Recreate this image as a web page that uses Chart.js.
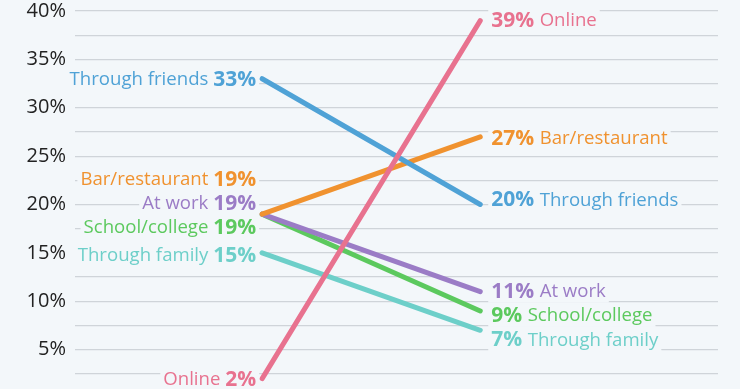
<!DOCTYPE html>
<html lang="en">
<head>
<meta charset="UTF-8">
<title>Where people met their partner</title>
<script src="https://cdn.jsdelivr.net/npm/chart.js"></script>
<style>
html,body{margin:0;padding:0;background:#f3f7fa;overflow:hidden;}
.wrap{width:740px;height:429px;margin-top:-10px;position:relative;}
</style>
</head>
<body>
<div class="wrap"><canvas id="slope"></canvas></div>
<script>
Chart.defaults.animation=false;

/* ── data ───────────────────────────────────────────── */
const categories=["Online","Through friends","Bar/restaurant","At work","School/college","Through family"];
const before=[2,33,19,19,19,15];
const after =[39,20,27,11,9,7];

const COLORS=["#e8728f","#4fa2d6","#f0922f","#9b7cc6","#5cc95e","#6dcfc9"];
const BG="#f3f7fa";
const FONT="'Open Sans', sans-serif";

/* label nudges (px) so the stacked labels don't collide */
const nudgeL=[0,0,-35,-11,13,2];
const nudgeR=[-1,-5,1,-1,4,9];

/* ── label plugin ───────────────────────────────────── */
const sideLabels={
  id:"sideLabels",
  afterDatasetsDraw(ch){
    const {ctx,scales:{x,y}}=ch;
    ctx.save();
    ctx.textBaseline="middle";
    const fN=`18.6px ${FONT}`, fB=`bold 21px ${FONT}`;
    categories.forEach((name,i)=>{
      const col=COLORS[i];
      // left side: "Name NN%"
      let yy=y.getPixelForValue(before[i])+nudgeL[i]+1;
      let xr=x.getPixelForValue(0)-6;
      ctx.font=fB; const pL=before[i]+"%"; const wB=ctx.measureText(pL).width;
      ctx.font=fN; const nL=name+" "; const wN=ctx.measureText(nL).width;
      ctx.fillStyle=BG;
      ctx.fillRect(xr-wB-wN-3,yy-11,wB+wN+6,22);
      ctx.fillStyle=col;
      ctx.textAlign="left";
      ctx.font=fN; ctx.fillText(nL,xr-wB-wN,yy);
      ctx.font=fB; ctx.fillText(pL,xr-wB,yy);
      // right side: "NN% Name"
      yy=y.getPixelForValue(after[i])+nudgeR[i]+1;
      let xl=x.getPixelForValue(1)+11;
      ctx.font=fB; const pR=after[i]+"% "; const wB2=ctx.measureText(pR).width;
      ctx.font=fN; const wN2=ctx.measureText(name).width;
      ctx.fillStyle=BG;
      ctx.fillRect(xl-3,yy-11,wB2+wN2+6,22);
      ctx.fillStyle=col;
      ctx.font=fB; ctx.fillText(pR,xl,yy);
      ctx.font=fN; ctx.fillText(name,xl+wB2,yy);
    });
    ctx.restore();
  }
};

/* ── chart ──────────────────────────────────────────── */
const datasets=categories.map((c,i)=>({
  label:c,
  data:[{x:0,y:before[i]},{x:1,y:after[i]}],
  borderColor:COLORS[i],
  borderWidth:5,
  borderCapStyle:"round",
  pointRadius:0,
  tension:0
}));

new Chart(document.getElementById("slope"),{
  type:"line",
  data:{datasets},
  options:{
    responsive:true,
    maintainAspectRatio:false,
    layout:{padding:{top:10,right:22,bottom:0,left:0}},
    plugins:{legend:{display:false},tooltip:{enabled:false}},
    scales:{
      x:{type:"linear",display:false,min:-0.858,max:2.09},
      y:{
        min:0,max:40,
        afterFit:s=>{s.width=75;},
        border:{display:false},
        grid:{color:"#cfd4d9",lineWidth:1.2,drawTicks:false},
        ticks:{
          stepSize:2.5,
          autoSkip:false,
          padding:9,
          color:"#222",
          font:{family:"Open Sans",size:20},
          callback:v=>(v>0&&v%5===0)?v+"%":""
        }
      }
    }
  },
  plugins:[sideLabels]
});
</script>
</body>
</html>
